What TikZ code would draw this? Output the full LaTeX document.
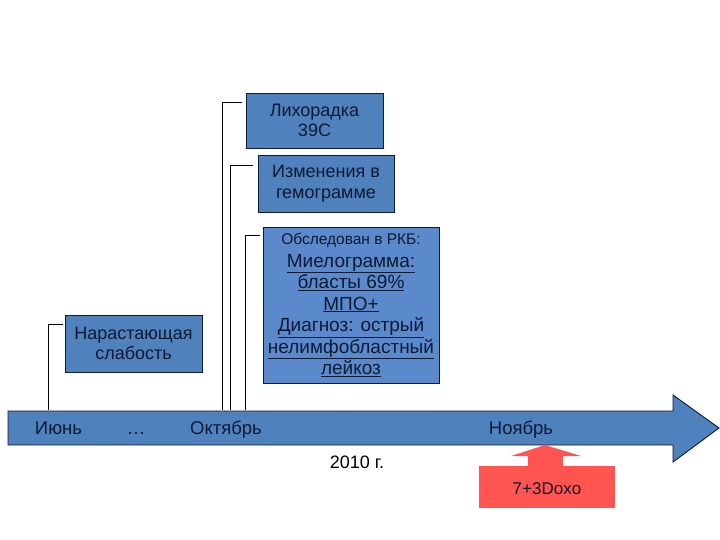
\documentclass[tikz,border=0pt]{standalone}
\usepackage{fontspec}
\setmainfont{Liberation Sans}
\definecolor{boxblue}{HTML}{4F81BD}
\definecolor{boxblue2}{HTML}{5A8ACB}
\definecolor{txtdark}{HTML}{0E1A33}
\definecolor{redfill}{HTML}{FF5450}
\tikzset{
  evbox/.style={draw=txtdark, line width=0.9pt, fill=boxblue, text=txtdark, align=center, inner sep=0pt, font=\fontsize{18}{20.5}\selectfont},
  conn/.style={draw=black, line width=0.8pt},
  tl/.style={text=txtdark, font=\fontsize{18.5}{20}\selectfont, inner sep=0pt, anchor=base}
}
\begin{document}
\begin{tikzpicture}[x=1pt,y=-1pt]
\useasboundingbox (0,0) rectangle (720,540);
% timeline arrow
\draw[fill=boxblue, draw=txtdark, line width=0.9pt] (8,411) -- (673,411) -- (673,395) -- (719,428) -- (673,462) -- (673,445) -- (8,445) -- cycle;
% red arrow and box
\fill[redfill] (545,445) -- (581,456) -- (563,456) -- (563,467) -- (528,467) -- (528,456) -- (511,456) -- cycle;
\node[fill=redfill, minimum width=136pt, minimum height=42pt, inner sep=0pt] (red) at (547,486.5) {};
\node[text=txtdark, font=\fontsize{17}{20}\selectfont, inner sep=0pt, anchor=base] (redtxt) at (547,494) {7+3Doxo};
% boxes
\node[evbox, minimum width=137pt, minimum height=55pt] (b1) at (314.5,120.5) {Лихорадка\\39C};
\node[evbox, minimum width=136pt, minimum height=57pt] (b2) at (326,183.5) {Изменения в\\гемограмме};
\node[evbox, fill=boxblue2, minimum width=176pt, minimum height=156pt, font=\fontsize{19}{21.5}\selectfont] (b3) at (351,305) {{\fontsize{15.5}{18}\selectfont Обследован в РКБ:}\\[1pt]
\underline{Миелограмма:}\\\underline{бласты 69\%}\\\underline{МПО+}\\\underline{Диагноз: острый}\\\underline{нелимфобластный}\\\underline{лейкоз}};
\node[evbox, minimum width=137pt, minimum height=57pt] (b4) at (133.5,343.5) {Нарастающая\\слабость};
% labels on the arrow
\node[tl] (jun) at (58.5,434) {Июнь};
\node[tl] (dots) at (136,434) {…};
\node[tl] (oct) at (226,434) {Октябрь};
\node[tl] (nov) at (521,434) {Ноябрь};
\node[text=black, font=\fontsize{18}{20}\selectfont, inner sep=0pt, anchor=base] (yr) at (357,468) {2010 г.};
% connectors
\coordinate (a1) at (222,410);
\coordinate (a2) at (230,410);
\coordinate (a3) at (245,410);
\coordinate (a4) at (48,410);
\coordinate (e1) at (242,102);
\coordinate (e2) at (253,165);
\coordinate (e3) at (260,235);
\coordinate (e4) at (63,324);
\draw[conn] (a1) |- (e1);
\draw[conn] (a2) |- (e2);
\draw[conn] (a3) |- (e3);
\draw[conn] (a4) |- (e4);
\end{tikzpicture}
\end{document}
